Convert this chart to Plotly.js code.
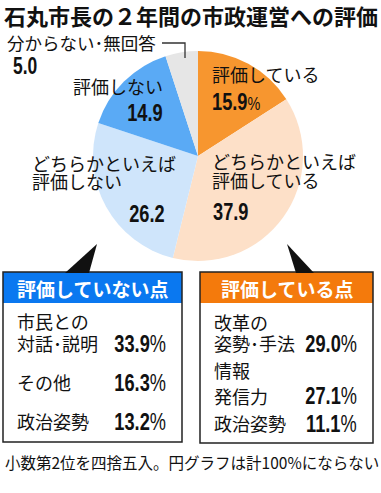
<!DOCTYPE html>
<html><head><meta charset="utf-8">
<script src="https://cdn.plot.ly/plotly-3.0.1.min.js"></script>
<style>html,body{margin:0;padding:0;background:#fff}#chart{width:381px;height:493px}</style>
</head><body><div id="chart"></div>
<script>
// ---- data ----
const title = '石丸市長の２年間の市政運営への評価';
const pieLabels = ['評価している', 'どちらかといえば\n評価している', 'どちらかといえば\n評価しない', '評価しない', '分からない･無回答'];
const pieValues = [15.9, 37.9, 26.2, 14.9, 5.0];
const pieColors = ['#F7962F', '#FDE0C8', '#CFE5FB', '#5AAAF5', '#E6E6E6'];
const notTitle = '評価していない点';
const notLabels = ['市民との\n対話･説明', 'その他', '政治姿勢'];
const notValues = [33.9, 16.3, 13.2];
const yesTitle = '評価している点';
const yesLabels = ['改革の\n姿勢･手法', '情報\n発信力', '政治姿勢'];
const yesValues = [29.0, 27.1, 11.1];
const footnote = '小数第2位を四捨五入。円グラフは計100%にならない';

// ---- layout helpers ----
const W = 381, H = 493;
const JP = '"Noto Sans CJK JP", "Noto Sans", sans-serif';
const NUM = '"Liberation Sans", Arial, sans-serif';
const NUM_SCALE = 0.76;
const px = x => x / W, py = y => 1 - y / H;
const annotations = [];
const narrow = []; // indices of annotations to draw condensed
function ann(x, y, text, size, o) {
  o = o || {};
  if (o.narrow) narrow.push({i: annotations.length, anchor: o.anchor || 'left'});
  annotations.push({
    xref: 'paper', yref: 'paper', x: px(x), y: py(y),
    xanchor: o.anchor || 'left', yanchor: 'middle', showarrow: false,
    text: text, borderpad: 0,
    font: {family: o.family || JP, size: size, color: o.color || '#111', weight: o.weight || 'normal'}
  });
}
function lines(x, ys, label, size, o) {
  label.split('\n').forEach((t, i) => ann(x, ys[i], t, size, o));
}

// title
ann(3, 15, title, 22, {weight: 'bold'});

// pie label placement
const pieLabelPos = [
  {x: 211, ys: [74], anchor: 'left', nx: 211, ny: 102, nanchor: 'left', size: 18, pct: true},
  {x: 211, ys: [161, 180], anchor: 'left', nx: 212, ny: 211, nanchor: 'left', size: 18},
  {x: 31, ys: [163, 181], anchor: 'left', nx: 166, ny: 213, nanchor: 'right', size: 18},
  {x: 164, ys: [86], anchor: 'right', nx: 164, ny: 112, nanchor: 'right', size: 18},
  {x: 6, ys: [42], anchor: 'left', nx: 12, ny: 66, nanchor: 'left', size: 17.5, nsize: 23}
];
pieLabels.forEach((lab, i) => {
  const p = pieLabelPos[i];
  lines(p.x, p.ys, lab, p.size, {anchor: p.anchor});
  let t = '<b>' + pieValues[i].toFixed(1) + '</b>';
  if (p.pct) t += '<span style="font-size:19px">%</span>';
  ann(p.nx, p.ny, t, p.nsize || 24, {anchor: p.nanchor, family: NUM, narrow: true});
});

// boxes
function box(x0, x1, head, labels, values, rowYs) {
  ann((x0 + x1) / 2, 288, head, 19, {anchor: 'center', color: '#fff', weight: 'bold'});
  labels.forEach((lab, i) => {
    lines(x0 + 13, rowYs[i].l, lab, 18);
    ann(x1 - 15, rowYs[i].n, '<b>' + values[i].toFixed(1) + '</b>%', 24, {anchor: 'right', family: NUM, narrow: true});
  });
}
box(3, 182, notTitle, notLabels, notValues,
  [{l: [321, 343], n: 343}, {l: [382], n: 382}, {l: [421], n: 421}]);
box(200, 373, yesTitle, yesLabels, yesValues,
  [{l: [322, 343], n: 343}, {l: [370, 396], n: 395}, {l: [423], n: 423}]);

ann(4, 462, footnote, 15.5);

function rect(x0, y0, x1, y1, fill, line) {
  return {type: 'rect', xref: 'paper', yref: 'paper', x0: px(x0), x1: px(x1), y0: py(y1), y1: py(y0),
    fillcolor: fill, line: line ? {color: '#222', width: 1.5} : {width: 0}, layer: 'below'};
}
function tri(pts) {
  return {type: 'path', xref: 'paper', yref: 'paper', fillcolor: '#111', line: {width: 0},
    path: 'M' + pts.map(p => px(p[0]) + ',' + py(p[1])).join(' L') + ' Z'};
}
const shapes = [
  rect(3, 272, 182, 303, '#0A78F0', false),
  rect(3, 272, 182, 442, 'rgba(0,0,0,0)', true),
  rect(200, 272, 373, 303, '#F47A0C', false),
  rect(200, 272, 373, 443, 'rgba(0,0,0,0)', true),
  tri([[97, 244], [89, 273], [65, 273]]),
  tri([[287, 244], [314, 273], [296, 273]]),
  {type: 'path', xref: 'paper', yref: 'paper', line: {color: '#333', width: 1.3},
   path: 'M' + px(162) + ',' + py(43) + ' L' + px(185) + ',' + py(43) + ' L' + px(185) + ',' + py(58)}
];

const cx = 198, cy = 156, r = 105;
const data = [{
  type: 'pie', values: pieValues, labels: pieLabels, sort: false, direction: 'clockwise', rotation: 0,
  marker: {colors: pieColors, line: {width: 0}}, textinfo: 'none', hoverinfo: 'none', automargin: false,
  domain: {x: [px(cx - r), px(cx + r)], y: [py(cy + r), py(cy - r)]}
}];
const layout = {
  width: W, height: H, margin: {l: 0, r: 0, t: 0, b: 0}, showlegend: false,
  paper_bgcolor: '#fff', plot_bgcolor: '#fff', annotations: annotations, shapes: shapes
};
Plotly.newPlot('chart', data, layout, {staticPlot: true}).then(gd => {
  // condense the number glyphs (the reference uses a condensed numeral face)
  narrow.forEach(n => {
    const g = gd.querySelector('g.annotation[data-index="' + n.i + '"] text.annotation-text');
    if (!g) return;
    const bb = g.getBBox();
    const p = n.anchor === 'right' ? bb.x + bb.width : bb.x;
    const prev = g.getAttribute('transform') || '';
    g.setAttribute('transform', prev + ' translate(' + p + ',0) scale(' + NUM_SCALE + ',1) translate(' + (-p) + ',0)');
  });
});
</script></body></html>
